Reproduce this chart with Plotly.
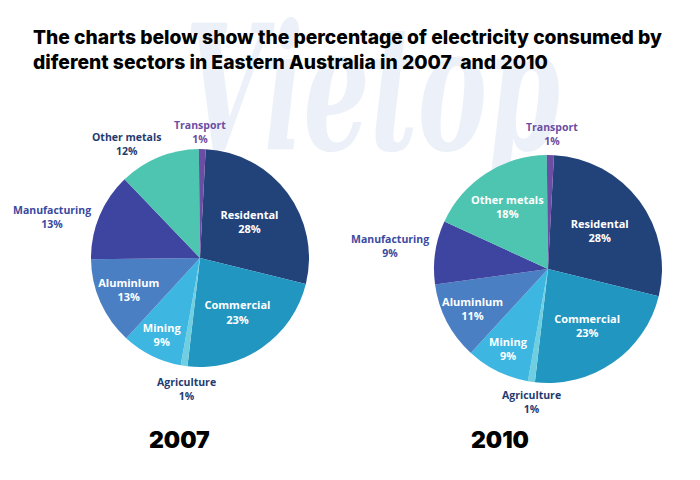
import base64
import plotly.graph_objects as go

# ---------------- data ----------------
sectors = ["Residental", "Commercial", "Agriculture", "Mining", "Aluminlum",
           "Manufacturing", "Other metals", "Transport"]
share_2007 = [28, 23, 1, 9, 13, 13, 12, 1]
share_2010 = [28, 23, 1, 9, 11, 9, 18, 1]
years = ["2007", "2010"]
title_lines = ["The charts below show the percentage of electricity consumed by",
               "diferent sectors in Eastern Australia in 2007  and 2010"]

# ---------------- styles ----------------
slice_colors = ["#22427a", "#2196c1", "#6fcfe0", "#3db6e2", "#4a7fc3",
                "#3e45a0", "#4ec5b1", "#6b4da3"]
outside_2007 = {"Other metals", "Transport", "Manufacturing", "Agriculture"}
outside_2010 = {"Transport", "Manufacturing", "Agriculture"}
outside_pos_2007 = {"Other metals": (126, 144), "Transport": (200, 132),
                    "Manufacturing": (52, 217), "Agriculture": (186, 389)}
outside_pos_2010 = {"Transport": (552, 134), "Manufacturing": (390, 246),
                    "Agriculture": (531, 402)}
outside_colors = {"Other metals": "#1f3c70", "Transport": "#6b4da3",
                  "Manufacturing": "#3a4aa0", "Agriculture": "#1f3c70"}

W, H = 700, 480
FONT = "Open Sans"


def dom(cx, cy, r):
    return dict(x=[(cx - r) / W, (cx + r) / W],
                y=[(H - cy - r) / H, (H - cy + r) / H])


def templates(outside):
    return ["" if s in outside else "<b>%{label}</b><br><b>%{value}%</b>" for s in sectors]


fig = go.Figure()
for vals, outside, d in [(share_2007, outside_2007, dom(200, 258, 109)),
                         (share_2010, outside_2010, dom(548, 269, 114))]:
    fig.add_trace(go.Pie(
        labels=sectors, values=vals, sort=False, direction="clockwise",
        rotation=3, domain=d,
        marker=dict(colors=slice_colors, line=dict(width=0)),
        texttemplate=templates(outside), textposition="inside",
        insidetextorientation="horizontal",
        textfont=dict(family=FONT, size=11, color="white"),
        showlegend=False, hoverinfo="label+value",
    ))

annotations = []
for vals, outside, pos in [(share_2007, outside_2007, outside_pos_2007),
                           (share_2010, outside_2010, outside_pos_2010)]:
    for s, v in zip(sectors, vals):
        if s in outside:
            x, y = pos[s]
            annotations.append(dict(
                x=x / W, y=1 - y / H, xref="paper", yref="paper",
                text=f"<b>{s}</b><br><b>{v}%</b>", showarrow=False,
                font=dict(family=FONT, size=10.5, color=outside_colors[s]),
                align="center", xanchor="center", yanchor="middle"))

# title
annotations.append(dict(
    x=31 / W, y=1 - 23 / H, xref="paper", yref="paper", xanchor="left", yanchor="top",
    text="<br>".join(title_lines), showarrow=False, align="left",
    font=dict(family="Inter", size=19.3, color="black", weight=800)))

# year labels
for yr, cx in zip(years, [179, 500]):
    annotations.append(dict(
        x=cx / W, y=1 - 440 / H, xref="paper", yref="paper",
        text=yr, showarrow=False, xanchor="center", yanchor="middle",
        font=dict(family="Inter", size=23, color="black", weight=900)))

# faint watermark as background image
svg = ('<svg xmlns="http://www.w3.org/2000/svg" width="700" height="480">'
       '<text x="185" y="150" font-family="DejaVu Serif" font-style="italic" '
       'font-weight="bold" font-size="175" textLength="375" lengthAdjust="spacingAndGlyphs" '
       'fill="#ecf0f8">Vietop</text></svg>')
src = "data:image/svg+xml;base64," + base64.b64encode(svg.encode()).decode()

fig.update_layout(
    width=W, height=H, margin=dict(l=0, r=0, t=0, b=0),
    paper_bgcolor="white", plot_bgcolor="white",
    annotations=annotations,
    uniformtext=dict(minsize=11, mode="show"),
    images=[dict(source=src, xref="paper", yref="paper", x=0, y=1,
                 sizex=1, sizey=1, xanchor="left", yanchor="top",
                 sizing="stretch", layer="below")],
)

fig.write_html("out.html", config={"displayModeBar": False},
               post_script="document.body.style.margin='0';")
